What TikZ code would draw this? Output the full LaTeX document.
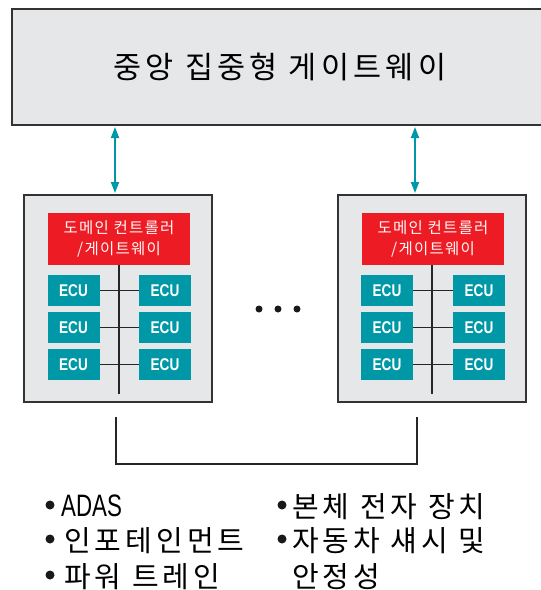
\documentclass[tikz,border=0pt]{standalone}
\usepackage{fontspec}
\usetikzlibrary{arrows.meta}
\setmainfont{Liberation Sans}
\newfontfamily\kr[LetterSpace=14]{Noto Sans CJK KR}
\newfontfamily\krn[LetterSpace=8]{Noto Sans CJK KR}
\newfontfamily\cond[FakeStretch=0.8]{Liberation Sans}
\newfontfamily\condn[FakeStretch=0.72]{Liberation Sans}
\definecolor{panel}{HTML}{E6E7E9}
\definecolor{edge}{HTML}{333333}
\definecolor{teal}{HTML}{0098A6}
\definecolor{dred}{HTML}{ED1C24}
\begin{document}
\begin{tikzpicture}[x=1pt,y=-1pt,
  panelbox/.style={draw=edge,line width=1.6pt,fill=panel},
  redbox/.style={fill=dred,draw=none,minimum width=142pt,minimum height=52pt,inner sep=0pt,
     text=white!90!pink,align=center,font=\krn\fontsize{15.5}{21}\selectfont},
  ecubox/.style={fill=teal,draw=none,minimum width=52pt,minimum height=31pt,inner sep=0pt,
     text=white,font=\cond\bfseries\fontsize{17}{17}\selectfont},
  busline/.style={draw=black!85,line width=1.4pt},
  link/.style={draw=teal,line width=1.8pt,{Triangle[width=8pt,length=11pt]}-{Triangle[width=8pt,length=11pt]}},
  wire/.style={draw=black!85,line width=1.2pt},
  bullet/.style={anchor=west,inner sep=0pt,font=\kr\fontsize{29}{30}\selectfont},
  dot/.style={circle,fill=black!90,inner sep=0pt,minimum size=7pt}]
\useasboundingbox (0,0) rectangle (541,590);
\fill[white] (0,0) rectangle (541,590);
% top gateway
\path[panelbox] (12,9) rectangle (560,125);
\node[font=\kr\fontsize{30.5}{32}\selectfont] (gw) at (280,67) {중앙 집중형 게이트웨이};
\coordinate (gwL) at (115,127);
\coordinate (gwR) at (415,127);
% domain panels
\path[panelbox] (24,195) rectangle (212,402);
\path[panelbox] (338,195) rectangle (526,402);
\coordinate (dL) at (115,193);
\coordinate (dR) at (415,193);
\draw[link] (gwL) -- (dL);
\draw[link] (gwR) -- (dR);
% left domain
\node[redbox] (rL) at (119,239) {도메인 컨트롤러\\/게이트웨이};
\coordinate (bL) at (119,394);
\draw[busline] (rL.south) -- (bL);
\foreach \i/\y in {1/290.5,2/327.5,3/364.5}{
  \node[ecubox] (eL\i) at (73.5,\y) {ECU};
  \node[ecubox] (fL\i) at (165,\y) {ECU};
  \draw[wire] (eL\i) -- (fL\i);
}
% right domain
\node[redbox] (rR) at (433,239) {도메인 컨트롤러\\/게이트웨이};
\coordinate (bR) at (432,394);
\draw[busline] (rR.south) ++(-1,0) -- (bR);
\foreach \i/\y in {1/290.5,2/327.5,3/364.5}{
  \node[ecubox] (eR\i) at (387,\y) {ECU};
  \node[ecubox] (fR\i) at (479,\y) {ECU};
  \draw[wire] (eR\i) -- (fR\i);
}
% ellipsis dots
\node[dot] (d1) at (259,309) {};
\node[dot] (d2) at (278,309) {};
\node[dot] (d3) at (297,309) {};
% bottom connector
\coordinate (cL) at (116,417);
\coordinate (cR) at (417,417);
\draw[wire] (cL) |- (266,464) -| (cR);
% bullets
\node[dot,minimum size=9pt] (b1) at (50,505) {};
\node[dot,minimum size=9pt] (b2) at (50,539) {};
\node[dot,minimum size=9pt] (b3) at (50,575) {};
\node[bullet,font=\condn\fontsize{31}{32}\selectfont] (t1) at (61,506) {ADAS};
\node[bullet] (t2) at (64,541) {인포테인먼트};
\node[bullet] (t3) at (64,577) {파워 트레인};
\node[dot,minimum size=9pt] (b4) at (282,505) {};
\node[dot,minimum size=9pt] (b5) at (282,539) {};
\node[bullet] (t4) at (292,507) {본체 전자 장치};
\node[bullet] (t5) at (292,541) {자동차 섀시 및};
\node[bullet] (t6) at (292,577) {안정성};
\end{tikzpicture}
\end{document}
